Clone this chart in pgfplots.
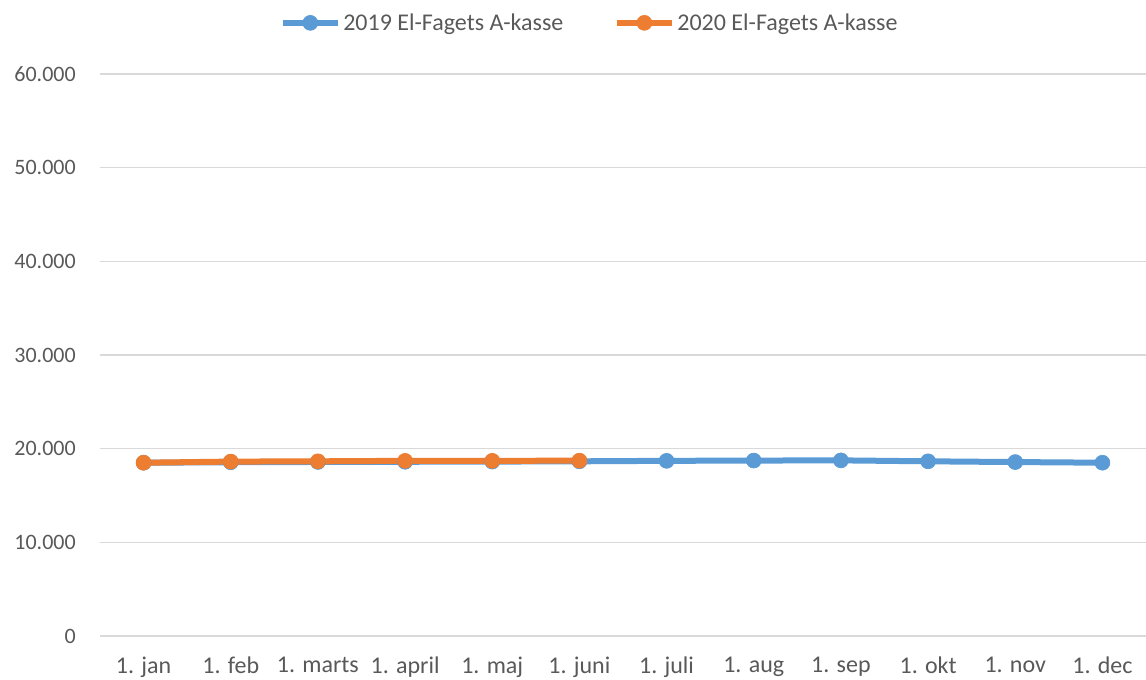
\documentclass[border=0pt]{standalone}
\usepackage{fontspec}
\setmainfont{Carlito}
\usepackage{pgfplots}
\pgfplotsset{compat=1.18}
\definecolor{blueline}{RGB}{91,155,213}
\definecolor{orangeline}{RGB}{237,125,49}
\definecolor{gridgray}{RGB}{217,217,217}
\definecolor{txtgray}{RGB}{89,89,89}
\pgfplotsset{
  lineleg/.style={legend image code/.code={
    \draw[##1, mark=none] (0pt,0pt) -- (41pt,0pt);
    \draw[##1, only marks] plot coordinates {(20.5pt,0pt)};
  }}
}
\begin{document}
\begin{tikzpicture}
\begin{axis}[
  scale only axis, width=784.5pt, height=421.5pt,
  xmin=-0.5, xmax=11.5, ymin=0, ymax=60000,
  xtick={0,...,11},
  xticklabels={1. jan,1. feb,1. marts,1. april,1. maj,1. juni,1. juli,1. aug,1. sep,1. okt,1. nov,1. dec},
  ytick={0,10000,...,60000},
  scaled y ticks=false,
  axis line style={draw=none},
  tick style={draw=none},
  ymajorgrids, grid style={gridgray, line width=1pt},
  /pgf/number format/.cd, fixed, 1000 sep={.}, assume math mode=true,
  /pgfplots/.cd,
  tick label style={text=txtgray},
  xticklabel style={font=\fontsize{18}{22}\selectfont, inner sep=0pt, anchor=north, yshift=-15.5pt},
  yticklabel style={font=\fontsize{16.5}{20}\selectfont, inner sep=0pt, xshift=-18pt},
  legend style={draw=none, fill=none, at={(rel axis cs:0.4685,1.091)}, anchor=center,
    font=\fontsize{18}{22}\selectfont, text=txtgray, legend columns=2,
    /tikz/every even column/.style={column sep=36pt}, inner sep=0pt},
  lineleg,
  every axis plot/.append style={line width=4.5pt, mark=*, mark size=5.6pt},
]
\addplot[blueline, mark options={solid, fill=blueline, draw=blueline, line width=0.5pt}] coordinates {
  (0,18500) (1,18550) (2,18580) (3,18600) (4,18620) (5,18650)
  (6,18700) (7,18730) (8,18750) (9,18650) (10,18570) (11,18500)};
\addlegendentry{2019 El-Fagets A-kasse}
\addplot[orangeline, mark options={solid, fill=orangeline, draw=orangeline, line width=0.5pt}] coordinates {
  (0,18500) (1,18620) (2,18650) (3,18700) (4,18700) (5,18720)};
\addlegendentry{2020 El-Fagets A-kasse}
\coordinate (sw) at (rel axis cs:0,0);
\coordinate (ne) at (rel axis cs:1,1);
\end{axis}
\pgfresetboundingbox
\path[use as bounding box] ([xshift=-75pt,yshift=-32.25pt]sw) rectangle ([yshift=55.5pt]ne);
\end{tikzpicture}
\end{document}
